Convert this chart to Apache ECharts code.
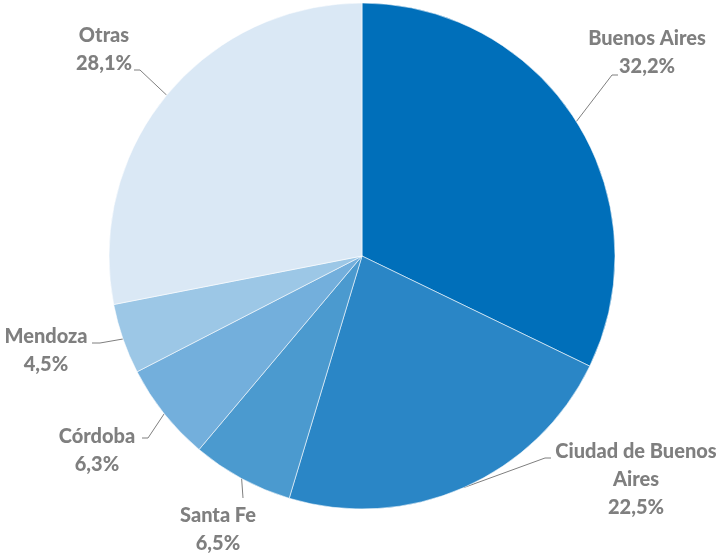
<!DOCTYPE html>
<html>
<head>
<meta charset="utf-8">
<script src="https://cdn.jsdelivr.net/npm/echarts@6/dist/echarts.min.js"></script>
<style>html,body{margin:0;padding:0;background:#fff}#c{width:723px;height:554px}</style>
</head>
<body>
<div id="c"></div>
<script>
const categories = ["Buenos Aires", "Ciudad de Buenos\nAires", "Santa Fe", "Córdoba", "Mendoza", "Otras"];
const values = [32.2, 22.5, 6.5, 6.3, 4.5, 28.1];
const colors = ["#006FBA", "#2A86C6", "#4B9ACF", "#73AFDC", "#9CC7E6", "#DAE8F5"];
// label text-block centres and guide-line ends (styling only)
const labelPos = [[647, 53], [636, 480], [218, 530], [97, 451], [46, 351], [104, 50]];
const guideEnd = [[618, 75], [551, 458], [243, 498], [142, 438], [92, 343], [134, 70]];
const guideKink = [[612, 75], [545, 458], [243, 498], [148, 438], [100, 343], [140, 70]];

const chart = echarts.init(document.getElementById('c'), null, {renderer: 'canvas'});
const data = categories.map((c, i) => ({
  name: c,
  value: values[i],
  itemStyle: {color: colors[i]}
}));
chart.setOption({
  animation: false,
  series: [{
    type: 'pie',
    center: [362, 256],
    radius: 253,
    startAngle: 90,
    clockwise: true,
    data: data,
    itemStyle: {borderColor: 'rgba(255,255,255,0.7)', borderWidth: 0.8},
    label: {
      show: true,
      position: 'outside',
      overflow: 'none',
      formatter: p => p.name + '\n' + p.value.toFixed(1).replace('.', ',') + '%',
      color: '#7F7F7F',
      fontFamily: 'Lato',
      fontWeight: 900,
      fontSize: 20,
      lineHeight: 28,
      align: 'center'
    },
    labelLine: {
      show: true,
      length: 15,
      length2: 8,
      lineStyle: {color: '#7F7F7F', width: 1}
    },
    labelLayout: function (params) {
      const i = params.dataIndex;
      const p = labelPos[i];
      const start = params.labelLinePoints ? params.labelLinePoints[0] : guideKink[i];
      return {
        x: p[0], y: p[1], align: 'center', verticalAlign: 'middle', width: 200,
        labelLinePoints: [start, guideKink[i], guideEnd[i]]
      };
    },
    emphasis: {disabled: true}
  }]
});
</script>
</body>
</html>
